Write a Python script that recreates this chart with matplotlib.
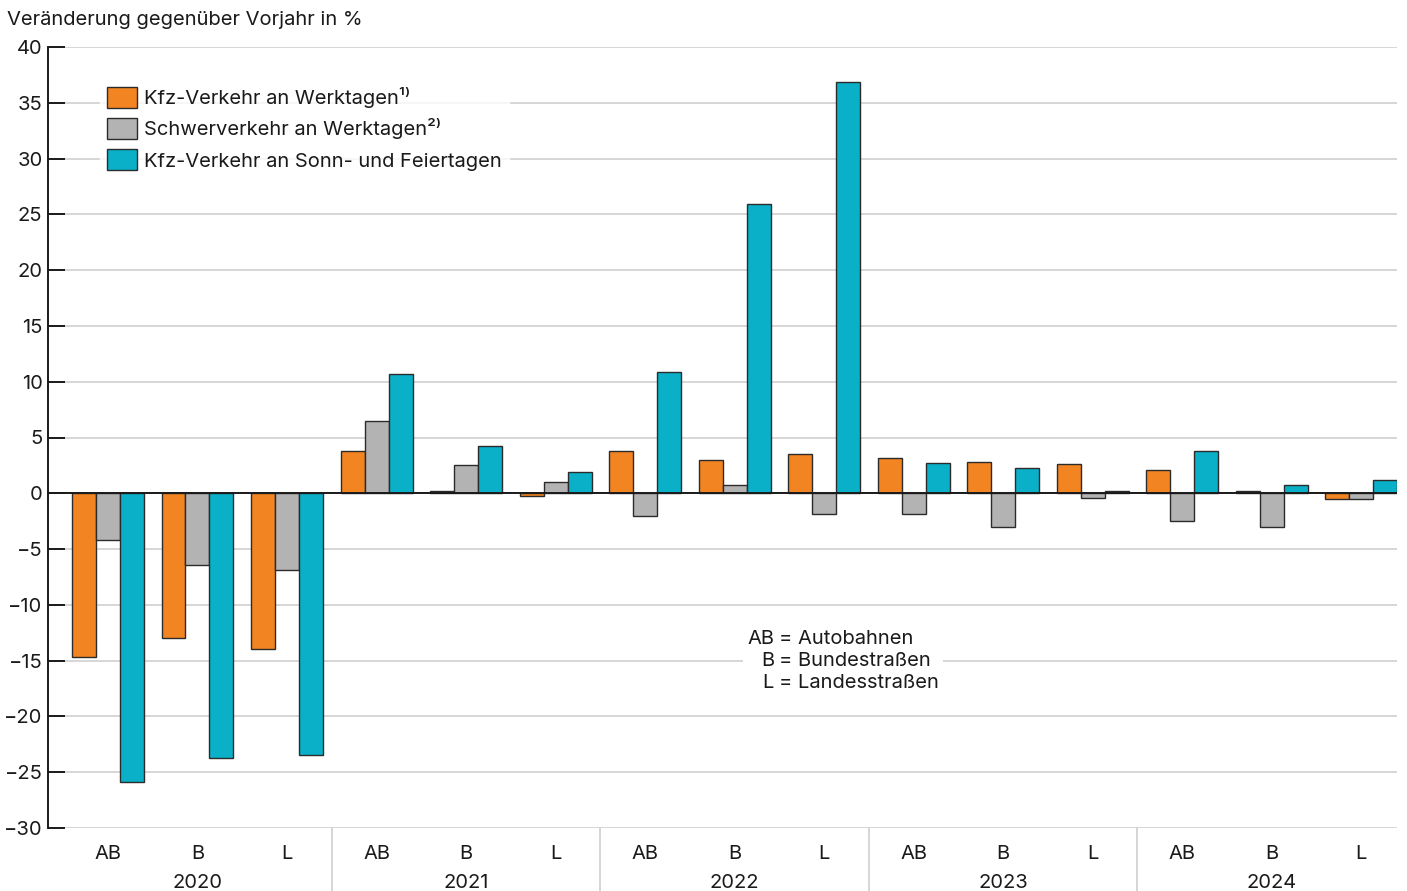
import numpy as np
import matplotlib
matplotlib.use("Agg")
import matplotlib.pyplot as plt
import matplotlib.transforms as mtransforms

plt.rcParams['font.family'] = ['Inter', 'DejaVu Sans']
plt.rcParams['axes.unicode_minus'] = True

# Daten
jahre = ['2020', '2021', '2022', '2023', '2024']
strassen = ['AB', 'B', 'L']
kfz_werktag = [-14.7, -13.0, -14.0,
               3.8, 0.2, -0.2,
               3.8, 3.0, 3.5,
               3.2, 2.8, 2.6,
               2.1, 0.2, -0.5]
schwer_werktag = [-4.2, -6.4, -6.9,
                  6.5, 2.5, 1.0,
                  -2.0, 0.7, -1.9,
                  -1.9, -3.0, -0.4,
                  -2.5, -3.0, -0.5]
kfz_sonntag = [-25.9, -23.7, -23.5,
               10.7, 4.2, 1.9,
               10.9, 25.9, 36.9,
               2.7, 2.3, 0.2,
               3.8, 0.7, 1.2]
serien = ['Kfz-Verkehr an Werktagen\u00b9\u207e',
          'Schwerverkehr an Werktagen\u00b2\u207e',
          'Kfz-Verkehr an Sonn- und Feiertagen']
farben = ['#F28522', '#B3B3B3', '#0AAFC8']
yticks = list(range(-30, 41, 5))

fs = 14.5
fig = plt.figure(figsize=(14.07, 8.91), dpi=100)
ax = fig.add_axes([48/1407, 1-828/891, (1397-48)/1407, (828-47)/891])

x = np.arange(len(kfz_werktag))
w = 0.268
for k, (werte, farbe, name) in enumerate(zip([kfz_werktag, schwer_werktag, kfz_sonntag], farben, serien)):
    ax.bar(x + (k-1)*w, werte, width=w, color=farbe, edgecolor='#2b2b2b',
           linewidth=1.0, label=name, zorder=2)

ax.axhline(0, color='#1a1a1a', lw=1.4, zorder=3)

ax.set_ylim(-30, 40)
ax.set_xlim(-0.67, 14.40)
ax.set_yticks(yticks)
ax.set_yticklabels([str(v).replace('-', '\u2212') for v in yticks])
ax.yaxis.grid(True, color='#cfcfcf', lw=1.2, zorder=0)
ax.set_axisbelow(True)
ax.tick_params(axis='y', direction='in', length=12, width=1.4, color='#1a1a1a',
               labelsize=fs, pad=4, labelcolor='#1a1a1a')
for s in ['top', 'right', 'bottom']:
    ax.spines[s].set_visible(False)
ax.spines['left'].set_linewidth(1.4)
ax.spines['left'].set_color('#1a1a1a')

ax.set_xticks(x)
ax.set_xticklabels(strassen * len(jahre))
ax.tick_params(axis='x', length=0, labelsize=fs, pad=12, labelcolor='#1a1a1a')

trans = mtransforms.blended_transform_factory(ax.transData, ax.transAxes)
for i, jahr in enumerate(jahre):
    ax.text(i*3 + 1, -0.071, jahr, transform=trans, ha='center', va='center',
            fontsize=fs, color='#1a1a1a')
    if i > 0:
        ax.plot([i*3 - 0.5, i*3 - 0.5], [0, -0.081], transform=trans,
                color='#cfcfcf', lw=1.2, clip_on=False)

fig.text(7/1407, 1-20/891, 'Veränderung gegenüber Vorjahr in %', ha='left', va='center',
         fontsize=fs, color='#1a1a1a')

leg = ax.legend(loc='upper left', bbox_to_anchor=(90/1407, 1-70/891),
                bbox_transform=fig.transFigure, frameon=True, fontsize=fs,
                handlelength=1.5, handleheight=1.2, handletextpad=0.35,
                labelspacing=0.5, borderpad=0.35, fancybox=False)
leg.get_frame().set_facecolor('white')
leg.get_frame().set_edgecolor('white')
for t in leg.get_texts():
    t.set_color('#1a1a1a')

ax.text(774/1407, 1-661/891, 'AB\nB\nL', transform=fig.transFigure, ha='right', va='center',
        multialignment='right', fontsize=fs, linespacing=1.25, color='#1a1a1a',
        bbox=dict(facecolor='white', edgecolor='none', pad=3))
ax.text(779/1407, 1-661/891, '= Autobahnen\n= Bundestraßen\n= Landesstraßen',
        transform=fig.transFigure, ha='left', va='center', fontsize=fs, linespacing=1.25,
        color='#1a1a1a', bbox=dict(facecolor='white', edgecolor='none', pad=3))

fig.savefig('out.png', dpi=100)
